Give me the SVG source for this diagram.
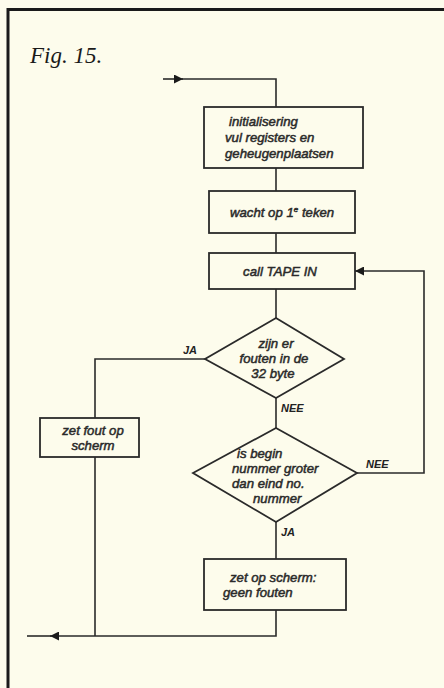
<svg xmlns="http://www.w3.org/2000/svg" width="444" height="688" viewBox="0 0 444 688">
  <defs>
    <style>
      .frame { fill: none; stroke: #1a1a1a; stroke-width: 3; }
      .shape { fill: none; stroke: #2a2a2a; stroke-width: 1.8; }
      .wire { fill: none; stroke: #2a2a2a; stroke-width: 1.6; }
      .lbl { font-family: "Liberation Sans", Arial, sans-serif; font-style: italic; font-size: 13.2px; fill: #2a2a2a; stroke: #2a2a2a; stroke-width: 0.5; }
      .tag { font-family: "Liberation Sans", Arial, sans-serif; font-style: italic; font-weight: bold; font-size: 11px; fill: #222; }
      .mid { text-anchor: middle; }
      .title { font-family: "Liberation Serif", "Times New Roman", serif; font-style: italic; font-size: 23px; fill: #1a1a1a; }
    </style>
    <marker id="arrow" viewBox="0 0 10 10" refX="10" refY="5" markerWidth="9" markerHeight="9" markerUnits="userSpaceOnUse" orient="auto">
      <path d="M0,0 L10,5 L0,10 Z" fill="#1a1a1a"/>
    </marker>
  </defs>

  <rect width="444" height="688" fill="#fdfcec"/>
  <path class="frame" d="M8,690 V9.5 H446"/>

  <text class="title" x="30" y="63">Fig. 15.</text>

  <!-- connectors -->
  <g id="connectors">
    <line class="wire" x1="163" y1="79" x2="183" y2="79" marker-end="url(#arrow)"/>
    <polyline class="wire" points="181,79 276,79 276,107"/>
    <line class="wire" x1="276" y1="168" x2="276" y2="191"/>
    <line class="wire" x1="276" y1="233" x2="276" y2="253"/>
    <line class="wire" x1="276" y1="289" x2="276" y2="318"/>
    <polyline class="wire" points="205,359 95,359 95,418"/>
    <line class="wire" x1="276" y1="398" x2="276" y2="428"/>
    <polyline class="wire" points="357,473 424,473 424,271 355,271" marker-end="url(#arrow)"/>
    <line class="wire" x1="276" y1="522" x2="276" y2="559"/>
    <line class="wire" x1="95" y1="457" x2="95" y2="636"/>
    <polyline class="wire" points="276,610 276,636 50,636" marker-end="url(#arrow)"/>
    <line class="wire" x1="52" y1="636" x2="27" y2="636"/>
    <text class="tag" x="183" y="354">JA</text>
    <text class="tag" x="281" y="412">NEE</text>
    <text class="tag" x="366" y="468">NEE</text>
    <text class="tag" x="281" y="536">JA</text>
  </g>

  <g id="init">
    <rect class="shape" x="204" y="107" width="159" height="61"/>
    <text class="lbl" x="229" y="126">initialisering</text>
    <text class="lbl" x="225" y="142">vul registers en</text>
    <text class="lbl" x="225" y="158">geheugenplaatsen</text>
  </g>

  <g id="wait">
    <rect class="shape" x="209" y="191" width="146" height="42"/>
    <text class="lbl" x="230" y="217">wacht op 1<tspan font-size="8" dy="-5">e</tspan><tspan dy="5"> teken</tspan></text>
  </g>

  <g id="tapein">
    <rect class="shape" x="209" y="253" width="146" height="36"/>
    <text class="lbl mid" x="280" y="276">call TAPE IN</text>
  </g>

  <g id="errors">
    <polygon class="shape" points="276,318 344,359 276,398 205,359"/>
    <text class="lbl mid" x="276" y="348">zijn er</text>
    <text class="lbl mid" x="274" y="363">fouten in de</text>
    <text class="lbl mid" x="273" y="378">32 byte</text>
  </g>

  <g id="showerror">
    <rect class="shape" x="40" y="418" width="99" height="39"/>
    <text class="lbl mid" x="93" y="435">zet fout op</text>
    <text class="lbl mid" x="93" y="450">scherm</text>
  </g>

  <g id="compare">
    <polygon class="shape" points="276,428 357,473 276,522 193,473"/>
    <text class="lbl" x="237" y="458">is begin</text>
    <text class="lbl" x="232" y="473">nummer groter</text>
    <text class="lbl" x="232" y="488">dan  eind no.</text>
    <text class="lbl" x="253" y="503">nummer</text>
  </g>

  <g id="noerrors">
    <rect class="shape" x="204" y="559" width="142" height="51"/>
    <text class="lbl" x="230" y="582">zet op scherm:</text>
    <text class="lbl" x="223" y="597">geen fouten</text>
  </g>
</svg>
